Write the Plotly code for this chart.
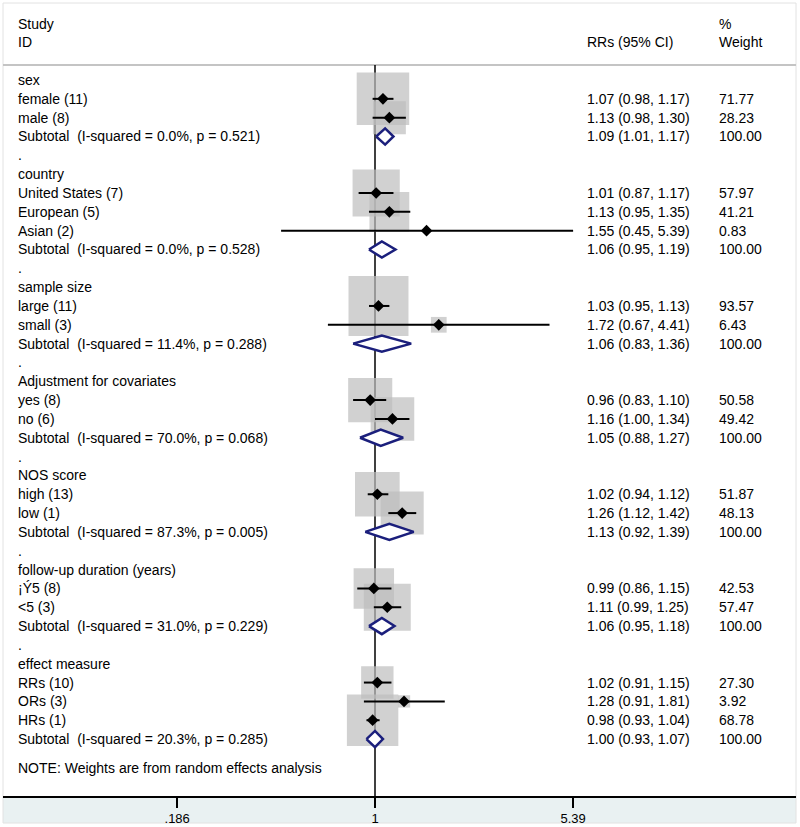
import math
import plotly.graph_objects as go

# ---------------- data ----------------
group_names = ["sex", "country", "sample size", "Adjustment for covariates",
               "NOS score", "follow-up duration (years)", "effect measure"]

study_labels = ["female (11)", "male (8)",
                "United States (7)", "European (5)", "Asian (2)",
                "large (11)", "small (3)",
                "yes (8)", "no (6)",
                "high (13)", "low (1)",
                "¡Ý5 (8)", "&lt;5 (3)",
                "RRs (10)", "ORs (3)", "HRs (1)"]
study_group = [0, 0, 1, 1, 1, 2, 2, 3, 3, 4, 4, 5, 5, 6, 6, 6]
study_rr = [1.07, 1.13, 1.01, 1.13, 1.55, 1.03, 1.72, 0.96, 1.16, 1.02, 1.26, 0.99, 1.11, 1.02, 1.28, 0.98]
study_lo = [0.98, 0.98, 0.87, 0.95, 0.45, 0.95, 0.67, 0.83, 1.00, 0.94, 1.12, 0.86, 0.99, 0.91, 0.91, 0.93]
study_hi = [1.17, 1.30, 1.17, 1.35, 5.39, 1.13, 4.41, 1.10, 1.34, 1.12, 1.42, 1.15, 1.25, 1.15, 1.81, 1.04]
study_weight = [71.77, 28.23, 57.97, 41.21, 0.83, 93.57, 6.43, 50.58, 49.42, 51.87, 48.13, 42.53, 57.47, 27.30, 3.92, 68.78]

sub_rr = [1.09, 1.06, 1.06, 1.05, 1.13, 1.06, 1.00]
sub_lo = [1.01, 0.95, 0.83, 0.88, 0.92, 0.95, 0.93]
sub_hi = [1.17, 1.19, 1.36, 1.27, 1.39, 1.18, 1.07]
sub_i2 = [0.0, 0.0, 11.4, 70.0, 87.3, 31.0, 20.3]
sub_p = ["0.521", "0.528", "0.288", "0.068", "0.005", "0.229", "0.285"]

tick_vals = [0.186, 1, 5.39]
tick_text = [".186", "1", "5.39"]

note_text = "NOTE: Weights are from random effects analysis"

# ---------------- layout helpers ----------------
FONT = "Liberation Sans, Arial, sans-serif"
FS = 14
W, H = 800, 827
ML, MR, MT, MB = 3, 4, 0, 31
PLOT_H = H - MT - MB
ROW0_PX, ROW_PX = 80.0, 18.83
X_ONE_PX, PX_PER_DECADE = 375.0, 270.8

y_top = (0 - ROW0_PX) / ROW_PX
y_bot = (PLOT_H - ROW0_PX) / ROW_PX
x_left = (ML - X_ONE_PX) / PX_PER_DECADE
x_right = (W - MR - X_ONE_PX) / PX_PER_DECADE

def px_x(xpx):
    return (xpx - ML) / (W - ML - MR)

COL_LABEL = px_x(16)
COL_RR = px_x(585)
COL_W = px_x(717)

# assign rows
rows_study = [0] * len(study_labels)
rows_header = []
rows_sub = []
rows_dot = []
r = 0
for g in range(len(group_names)):
    rows_header.append(r)
    r += 1
    for i, sg in enumerate(study_group):
        if sg == g:
            rows_study[i] = r
            r += 1
    rows_sub.append(r)
    r += 1
    if g < len(group_names) - 1:
        rows_dot.append(r)
        r += 1
note_row = r + 0.55

fig = go.Figure()

# boxes (area proportional to weight)
fig.add_trace(go.Scatter(
    x=study_rr, y=rows_study, mode="markers",
    marker=dict(symbol="square", size=[6.2 * math.sqrt(w) for w in study_weight],
                color="#bebebe", line=dict(width=0)),
    hoverinfo="skip", showlegend=False))

# confidence intervals
cx, cy = [], []
for lo, hi, ry in zip(study_lo, study_hi, rows_study):
    cx += [lo, hi, None]
    cy += [ry, ry, None]
fig.add_trace(go.Scatter(x=cx, y=cy, mode="lines", line=dict(color="black", width=2),
                         hoverinfo="skip", showlegend=False))

# point estimates
fig.add_trace(go.Scatter(x=study_rr, y=rows_study, mode="markers",
                         marker=dict(symbol="diamond", size=9, color="black"),
                         hoverinfo="skip", showlegend=False))

# subtotal diamonds
DH = 0.43
for est, lo, hi, ry in zip(sub_rr, sub_lo, sub_hi, rows_sub):
    fig.add_trace(go.Scatter(
        x=[lo, est, hi, est, lo], y=[ry, ry - DH, ry, ry + DH, ry],
        mode="lines", fill="toself", fillcolor="white",
        line=dict(color="#1b1f7c", width=2.5),
        hoverinfo="skip", showlegend=False))

# ---------------- text ----------------
ann = []
def txt(x, y, s):
    ann.append(dict(x=x, y=y, xref="paper", yref="y", text=s, showarrow=False,
                    xanchor="left", yanchor="middle",
                    font=dict(family=FONT, size=FS, color="black")))

txt(COL_LABEL, -3, "Study")
txt(COL_LABEL, -2, "ID")
txt(COL_RR, -2, "RRs (95% CI)")
txt(COL_W, -3, "%")
txt(COL_W, -2, "Weight")

for g, name in enumerate(group_names):
    txt(COL_LABEL, rows_header[g], name)
    txt(COL_LABEL, rows_sub[g],
        "Subtotal  (I-squared = %.1f%%, p = %s)" % (sub_i2[g], sub_p[g]))
    txt(COL_RR, rows_sub[g], "%.2f (%.2f, %.2f)" % (sub_rr[g], sub_lo[g], sub_hi[g]))
    txt(COL_W, rows_sub[g], "100.00")
for ry in rows_dot:
    txt(COL_LABEL, ry, ".")
for i, lab in enumerate(study_labels):
    txt(COL_LABEL, rows_study[i], lab)
    txt(COL_RR, rows_study[i], "%.2f (%.2f, %.2f)" % (study_rr[i], study_lo[i], study_hi[i]))
    txt(COL_W, rows_study[i], "%.2f" % study_weight[i])
txt(COL_LABEL, note_row, note_text)

# ---------------- shapes ----------------
shapes = [
    # light strip below axis
    dict(type="rect", xref="paper", yref="paper", x0=0, x1=1,
         y0=-27 / PLOT_H, y1=0,
         fillcolor="#e9f1f2", line=dict(width=0), layer="below"),
    # faint frame
    dict(type="rect", xref="paper", yref="paper", x0=0, x1=1,
         y0=-27 / PLOT_H, y1=(PLOT_H - 3) / PLOT_H,
         fillcolor="rgba(0,0,0,0)", line=dict(color="#e2e2e2", width=1), layer="below"),
    # header separator
    dict(type="line", xref="paper", yref="y", x0=0, x1=1, y0=-0.8, y1=-0.8,
         line=dict(color="#c4c4c4", width=2), layer="below"),
    # null line
    dict(type="line", xref="x", yref="y", x0=1, x1=1, y0=-0.8, y1=y_bot,
         line=dict(color="black", width=1.5), layer="below"),
]

fig.update_layout(
    width=W, height=H,
    margin=dict(l=ML, r=MR, t=MT, b=MB),
    paper_bgcolor="white", plot_bgcolor="white",
    annotations=ann, shapes=shapes,
    xaxis=dict(type="log", range=[x_left, x_right], showgrid=False, zeroline=False,
               showline=True, linecolor="black", linewidth=1.5,
               ticks="outside", ticklen=10, tickwidth=1.5, tickcolor="black",
               tickvals=tick_vals, ticktext=tick_text,
               tickfont=dict(family=FONT, size=13, color="black"), fixedrange=True),
    yaxis=dict(range=[y_bot, y_top], visible=False, fixedrange=True),
    showlegend=False,
)

fig.write_html("out.html", config={"displayModeBar": False},
               post_script="document.body.style.margin='0px';document.body.style.padding='0px';")
